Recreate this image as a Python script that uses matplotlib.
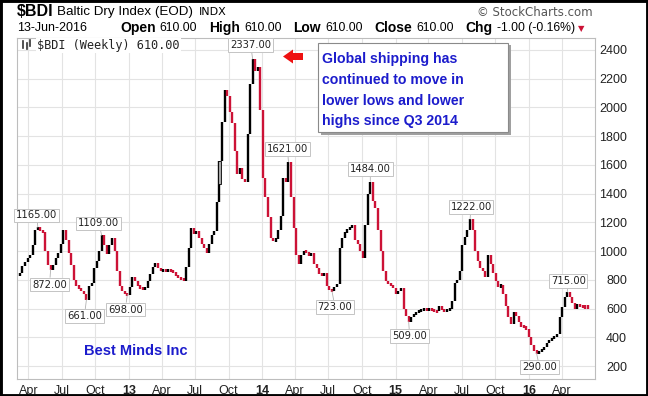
#weekly Baltic Dry Index chart (StockCharts style), Mar 2012 - Jun 2016

import pandas as pd
import matplotlib
matplotlib.use('Agg')
import matplotlib.pyplot as plt
import matplotlib.dates as mdates
from matplotlib.patches import Rectangle, Polygon
from matplotlib.lines import Line2D

W, H = 648, 396

#weekly closes
weeks = pd.date_range('2012-03-09', periods=223, freq='7D')
closes = [850, 895, 925, 950, 975, 1045, 1150, 1165, 1140, 1130,
          1000, 900, 872, 900, 950, 990, 1050, 1150, 1080, 990,
          900, 800, 760, 740, 720, 700, 661, 760, 780, 880,
          930, 1000, 1109, 1040, 980, 1040, 1090, 1000, 860, 760,
          720, 700, 698, 750, 820, 790, 760, 740, 735, 745,
          790, 840, 890, 920, 880, 860, 870, 860, 870, 865,
          855, 830, 815, 805, 795, 890, 1020, 1160, 1120, 1140,
          1090, 1050, 1020, 985, 1050, 1110, 1140, 1340, 1630, 1900,
          2120, 2080, 1970, 1890, 1700, 1540, 1580, 1500, 1480, 1815,
          2160, 2337, 2250, 2280, 1980, 1510, 1380, 1240, 1090, 1070,
          1085, 1150, 1245, 1510, 1480, 1621, 1380, 1160, 975, 910,
          975, 1000, 995, 965, 990, 910, 880, 840, 830, 845,
          760, 730, 723, 750, 770, 1020, 1090, 1130, 1150, 1165,
          1180, 1080, 1050, 1000, 950, 1180, 1400, 1484, 1350, 1300,
          1150, 1000, 860, 790, 775, 760, 745, 700, 725, 745,
          600, 545, 509, 540, 560, 570, 585, 590, 595, 590,
          595, 590, 585, 580, 620, 590, 585, 590, 600, 650,
          780, 800, 860, 1040, 1100, 1150, 1222, 1150, 1000, 930,
          880, 860, 820, 970, 910, 850, 790, 750, 765, 700,
          620, 540, 490, 575, 550, 505, 475, 470, 460, 405,
          345, 305, 290, 300, 315, 330, 360, 380, 395, 405,
          420, 540, 610, 680, 715, 680, 640, 595, 630, 615,
          612, 611, 610]
hollow_week = 78
hollow_open = 1465

#highs/lows flagged on the chart
label_weeks = [7, 12, 26, 32, 42, 91, 105, 122, 137, 152, 176, 202, 214]
label_values = [1165, 872, 661, 1109, 698, 2337, 1621, 723, 1484, 509, 1222, 290, 715]
label_offsets = [(-1, 12), (-1, -15), (-2, -16), (-3, 12), (-2, -15), (-2, 14), (-1, 13),
                 (3, -16), (0, 12.5), (1, -14.5), (1, 12), (3, -14), (1, 11)]

quarter_ticks = pd.date_range('2012-04-01', '2016-04-01', freq='QS')
yticks = list(range(200, 2401, 200))

quote_fields = ['Open', 'High', 'Low', 'Close', 'Chg']
quote_values = ['610.00', '610.00', '610.00', '610.00', '-1.00 (-0.16%)']

note_lines = ['Global shipping has', 'continued to move in',
              'lower lows and lower', 'highs since Q3 2014']

plt.rcParams['font.family'] = ['Liberation Sans', 'DejaVu Sans']

def fx(x):
    return x / W

def fy(y):
    return 1 - y / H

fig = plt.figure(figsize=(W / 100, H / 100), dpi=100)
ax = fig.add_axes([fx(17), fy(379), (595 - 17) / W, (379 - 38) / H])

#bars span previous close -> close, black up / red down
xs, lo, hi, cols = [], [], [], []
prev = closes[0] - 20
for d, c in zip(weeks, closes):
    a, b = min(prev, c), max(prev, c)
    if b - a < 22:
        m = (a + b) / 2
        a, b = m - 11, m + 11
    xs.append(d)
    lo.append(a)
    hi.append(b)
    cols.append('black' if c >= prev else '#cc1236')
    prev = c
ax.vlines(xs, lo, hi, colors=cols, linewidth=1.7, zorder=3)

hw = mdates.date2num(weeks[hollow_week])
ax.add_patch(Rectangle((hw - 3.5, hollow_open), 7, closes[hollow_week] - hollow_open,
                       facecolor='#a8a8a8', edgecolor='black', linewidth=0.6, zorder=4))

for i, v, (dx, dy) in zip(label_weeks, label_values, label_offsets):
    ax.annotate(f'{v:.2f}', xy=(mdates.date2num(weeks[i]), v), xytext=(dx, dy),
                textcoords='offset pixels', ha='center', va='center',
                fontsize=7.2, family='DejaVu Sans', color='#222222', zorder=6,
                bbox=dict(boxstyle='square,pad=0.18', fc='white', ec='#c4c4c4', lw=0.7),
                arrowprops=dict(arrowstyle='-', color='#b0b0b0', lw=0.6,
                                shrinkA=0, shrinkB=0))

ax.set_xlim(pd.Timestamp('2012-03-01'), pd.Timestamp('2016-06-30'))
ax.set_ylim(110, 2483)

ax.set_xticks(quarter_ticks)
ax.set_xticklabels([str(d.year)[2:] if d.month == 1 else d.strftime('%b') for d in quarter_ticks])
for lab, d in zip(ax.get_xticklabels(), quarter_ticks):
    if d.month == 1:
        lab.set_fontweight('bold')
        lab.set_fontsize(10)

ax.yaxis.tick_right()
ax.set_yticks(yticks)
ax.set_yticklabels([str(v) for v in yticks])
for lab in ax.get_yticklabels():
    lab.set_ha('right')
ax.tick_params(axis='both', length=0, labelsize=9, colors='#222222')
ax.tick_params(axis='x', pad=4)
ax.tick_params(axis='y', pad=23)

ax.grid(color='#e3e3e3', linewidth=0.8)
ax.set_axisbelow(True)
for s in ax.spines.values():
    s.set_color('#bdbdbd')
    s.set_linewidth(0.8)

#chart label inside the panel
fig.text(fx(37), fy(45.5), '\\$BDI (Weekly) 610.00', family='DejaVu Sans Mono',
         fontsize=8.6, va='center', color='#222222',
         bbox=dict(boxstyle='square,pad=0.1', fc='white', ec='none'))
for x0, y0, y1 in [(23, 41, 48), (26.5, 43, 49), (30, 40, 46)]:
    fig.add_artist(Line2D([fx(x0), fx(x0)], [fy(y0), fy(y1)], color='#333333', lw=1.2))

#header
fig.text(fx(17), fy(11.5), '\\$BDI', fontsize=11.5, fontweight='bold', va='center')
fig.text(fx(57), fy(12), 'Baltic Dry Index (EOD)', fontsize=9.6, va='center')
fig.text(fx(199), fy(12), 'INDX', fontsize=8, va='center', family='DejaVu Sans')
fig.text(fx(593), fy(12.5), '\u00a9 StockCharts.com', fontsize=8.5, va='center',
         ha='right', color='#555555', family='DejaVu Sans')
fig.text(fx(17), fy(28), '13-Jun-2016', fontsize=9, va='center')

#quote line: bold field name then value, chained left to right
renderer = fig.canvas.get_renderer()
xpos = 120
for name, val in zip(quote_fields, quote_values):
    t = fig.text(fx(xpos), fy(28), name, fontsize=10, fontweight='bold', va='center')
    xpos += t.get_window_extent(renderer).width + 4
    t = fig.text(fx(xpos), fy(28), val, fontsize=8.8, va='center')
    xpos += t.get_window_extent(renderer).width + 12
fig.text(fx(xpos - 9), fy(29), '\u25bc', fontsize=6, color='#cc1236', va='center', family='DejaVu Sans')

#note box with shadow
fig.add_artist(Rectangle((fx(320.5), fy(134.5)), (508 - 318) / W, (132 - 43) / H,
                         transform=fig.transFigure, fc='#a0a0a0', ec='none', zorder=7))
fig.add_artist(Rectangle((fx(318), fy(132)), (508 - 318) / W, (132 - 43) / H,
                         transform=fig.transFigure, fc='white', ec='#8a8a8a', lw=0.8, zorder=8))
for k, line in enumerate(note_lines):
    fig.text(fx(322), fy(63 + 20.8 * k), line, fontsize=10.2, fontweight='bold',
             color='#1c1ccc', va='baseline', zorder=9)

fig.text(fx(84), fy(355), 'Best Minds Inc', fontsize=10.5, fontweight='bold',
         color='#1c1ccc', va='baseline')

#red arrow pointing at the peak
arrow = [(283, 56.5), (293, 49.5), (293, 53), (303, 53), (303, 60), (293, 60), (293, 63.5)]
fig.add_artist(Polygon([(fx(x), fy(y)) for x, y in arrow], closed=True,
                       transform=fig.transFigure, fc='#ee1111', ec='none', zorder=9))

#screenshot frame
fig.add_artist(Rectangle((0, 0), 1, 1, transform=fig.transFigure, fill=False,
                         ec='black', lw=3.5, zorder=10))

fig.savefig('out.png', dpi=100)
